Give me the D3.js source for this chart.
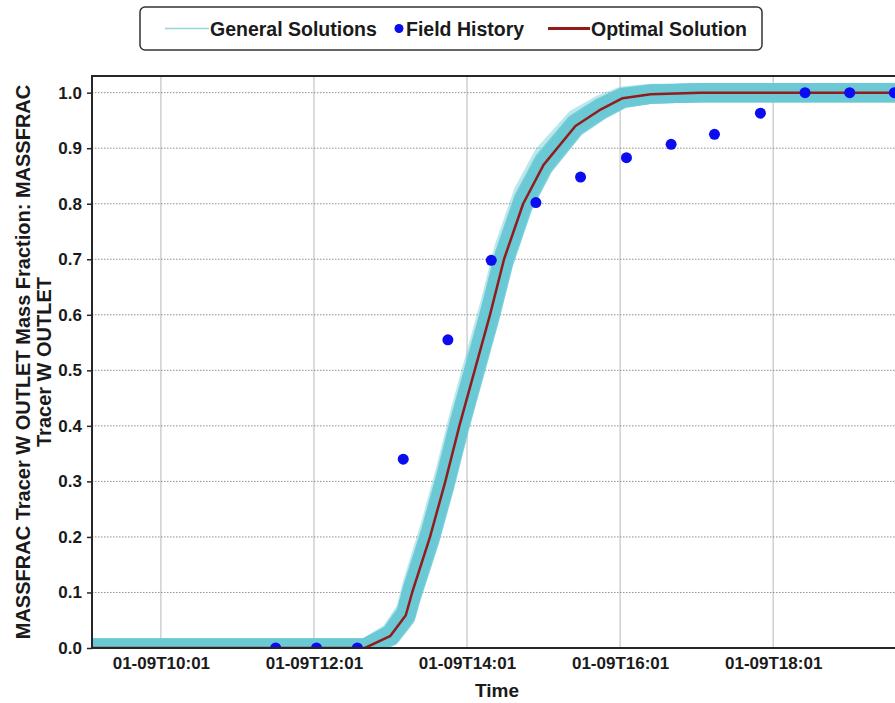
<!DOCTYPE html>
<html>
<head>
<meta charset="utf-8">
<script src="https://cdn.jsdelivr.net/npm/d3@7"></script>
<style>
  html, body { margin: 0; padding: 0; background: #fff; }
  svg { display: block; }
  text { font-family: "Liberation Sans", Arial, Helvetica, sans-serif; font-weight: bold; fill: #1a1a1a; }
</style>
</head>
<body>
<svg id="chart" width="895" height="703"></svg>
<script>
// Shared time grid of the simulated curves
const simTimes = ["01-09T09:01", "01-09T12:41", "01-09T13:01", "01-09T13:13", "01-09T13:18",
  "01-09T13:32", "01-09T13:44", "01-09T13:55", "01-09T14:07", "01-09T14:19", "01-09T14:30",
  "01-09T14:45", "01-09T15:01", "01-09T15:26", "01-09T15:46", "01-09T16:03", "01-09T16:25",
  "01-09T17:04", "01-09T20:31"];

// Best-fit simulation
const optimalValues = [0, 0, 0.022, 0.059, 0.10, 0.20, 0.30, 0.40, 0.50, 0.60, 0.70,
  0.80, 0.87, 0.94, 0.97, 0.99, 0.997, 1.0, 1.0];

// Ensemble of other simulated runs
const general1 = [0, 0, 0.025, 0.064, 0.107, 0.208, 0.308, 0.408, 0.508, 0.608, 0.708, 0.808, 0.877, 0.945, 0.974, 0.992, 0.998, 1.0, 1.0];
const general2 = [0, 0, 0.023, 0.061, 0.103, 0.204, 0.304, 0.404, 0.504, 0.604, 0.704, 0.804, 0.873, 0.942, 0.972, 0.991, 0.997, 1.0, 1.0];
const general3 = [0, 0, 0.022, 0.059, 0.100, 0.200, 0.300, 0.400, 0.500, 0.600, 0.700, 0.800, 0.870, 0.940, 0.970, 0.990, 0.997, 1.0, 1.0];
const general4 = [0, 0, 0.020, 0.055, 0.095, 0.194, 0.294, 0.394, 0.494, 0.594, 0.694, 0.795, 0.866, 0.937, 0.968, 0.989, 0.997, 1.0, 1.0];
const general5 = [0, 0, 0.028, 0.070, 0.116, 0.220, 0.321, 0.422, 0.522, 0.622, 0.722, 0.821, 0.889, 0.953, 0.979, 0.994, 0.999, 1.0, 1.0];
const generalRuns = [general1, general2, general3, general4, general5];

// Observed data
const fieldTimes = ["01-09T11:31", "01-09T12:03", "01-09T12:35", "01-09T13:11", "01-09T13:46",
  "01-09T14:20", "01-09T14:55", "01-09T15:30", "01-09T16:06", "01-09T16:41", "01-09T17:15",
  "01-09T17:51", "01-09T18:26", "01-09T19:01", "01-09T19:36"];
const fieldValues = [0, 0, 0, 0.34, 0.555, 0.698, 0.802, 0.848, 0.883, 0.907, 0.925,
  0.963, 1.0, 1.0, 1.0];

// Axes
const xTickLabels = ["01-09T10:01", "01-09T12:01", "01-09T14:01", "01-09T16:01", "01-09T18:01"];
const xDomain = ["01-09T09:07", "01-09T19:42"];
const yTicks = [0, 0.1, 0.2, 0.3, 0.4, 0.5, 0.6, 0.7, 0.8, 0.9, 1.0];
const yDomain = [0, 1.03];

const legendItems = ["General Solutions", "Field History", "Optimal Solution"];
const xTitle = "Time";
const yTitleLines = ["MASSFRAC Tracer W OUTLET Mass Fraction: MASSFRAC", "Tracer W OUTLET"];

const parse = d3.utcParse("%m-%dT%H:%M");
const fmt = d3.utcFormat("%m-%dT%H:%M");

const svg = d3.select("#chart");
const x0 = 92, x1 = 902, y0 = 76, y1 = 648;

const x = d3.scaleUtc().domain(xDomain.map(parse)).range([x0, x1]);
const y = d3.scaleLinear().domain(yDomain).range([y1, y0]);

const cyan = "#6bc9d5";
const red = "#931b1b";
const blue = "#0c0cf0";

svg.append("defs").append("clipPath").attr("id", "plotClip")
  .append("rect").attr("x", x0).attr("y", y0).attr("width", x1 - x0).attr("height", y1 - y0);

// Vertical grid (solid)
svg.append("g").selectAll("line").data(xTickLabels.map(parse)).join("line")
  .attr("x1", d => x(d)).attr("x2", d => x(d)).attr("y1", y0).attr("y2", y1)
  .attr("stroke", "#c4c4c4").attr("stroke-width", 1.2);

// Horizontal grid (dotted)
svg.append("g").selectAll("line").data(yTicks).join("line")
  .attr("x1", x0).attr("x2", x1).attr("y1", d => y(d)).attr("y2", d => y(d))
  .attr("stroke", "#8f8f8f").attr("stroke-width", 1).attr("stroke-dasharray", "1.5,1.5");

const plot = svg.append("g").attr("clip-path", "url(#plotClip)");
const simDates = simTimes.map(parse);
const line = d3.line().x((d, i) => x(simDates[i])).y(d => y(d));

plot.append("g").selectAll("path").data(generalRuns).join("path")
  .attr("d", line).attr("fill", "none").attr("stroke", cyan)
  .attr("stroke-width", 19).attr("stroke-opacity", (d, i) => i === 4 ? 0.45 : 0.85)
  .attr("stroke-linejoin", "round");

plot.append("path").datum(optimalValues).attr("d", line)
  .attr("fill", "none").attr("stroke", red).attr("stroke-width", 2.5)
  .attr("stroke-linejoin", "round");

plot.append("g").selectAll("circle").data(fieldValues).join("circle")
  .attr("cx", (d, i) => x(parse(fieldTimes[i]))).attr("cy", d => y(d))
  .attr("r", 5.5).attr("fill", blue);

// Frame: left, top and bottom lines
svg.append("path")
  .attr("d", `M${x1},${y0}H${x0}V${y1}H${x1}`)
  .attr("fill", "none").attr("stroke", "#262626").attr("stroke-width", 2);

// Y axis ticks and labels
const yAxis = d3.axisLeft(y).tickValues(yTicks).tickFormat(d3.format(".1f")).tickSize(5).tickPadding(5);
const gy = svg.append("g").attr("transform", `translate(${x0},0)`).call(yAxis);
gy.select(".domain").remove();
gy.selectAll(".tick line").attr("stroke", "#262626").attr("stroke-width", 1.5);
gy.selectAll(".tick text").style("font-size", "17px").attr("fill", "#1a1a1a");

// X axis labels
const xAxis = d3.axisBottom(x).tickValues(xTickLabels.map(parse)).tickFormat(fmt).tickSize(0).tickPadding(9);
const gx = svg.append("g").attr("transform", `translate(0,${y1})`).call(xAxis);
gx.select(".domain").remove();
gx.selectAll(".tick text").style("font-size", "17px").attr("fill", "#1a1a1a");

// Axis titles
svg.append("text").attr("x", 497).attr("y", 697).attr("text-anchor", "middle")
  .style("font-size", "19px").text(xTitle);

const yt = svg.append("text").attr("transform", `translate(30,${(y0 + y1) / 2}) rotate(-90)`)
  .attr("text-anchor", "middle").style("font-size", "20px");
yTitleLines.forEach((t, i) => yt.append("tspan").attr("x", 0).attr("dy", i === 0 ? 0 : 21).text(t));

// Legend
const lg = svg.append("g");
lg.append("rect").attr("x", 140).attr("y", 7).attr("width", 622).attr("height", 43).attr("rx", 5)
  .attr("fill", "#fff").attr("stroke", "#333").attr("stroke-width", 1.5);
const ly = 28.5;
lg.append("line").attr("x1", 165).attr("x2", 209).attr("y1", ly).attr("y2", ly)
  .attr("stroke", "#8fd6de").attr("stroke-width", 1.5);
lg.append("text").attr("x", 210).attr("y", ly + 7).style("font-size", "19.5px").text(legendItems[0]);
lg.append("circle").attr("cx", 399).attr("cy", ly).attr("r", 4.5).attr("fill", blue);
lg.append("text").attr("x", 406).attr("y", ly + 7).style("font-size", "19.5px").text(legendItems[1]);
lg.append("line").attr("x1", 548).attr("x2", 590).attr("y1", ly).attr("y2", ly)
  .attr("stroke", red).attr("stroke-width", 3);
lg.append("text").attr("x", 591).attr("y", ly + 7).style("font-size", "19.5px").text(legendItems[2]);
</script>
</body>
</html>
